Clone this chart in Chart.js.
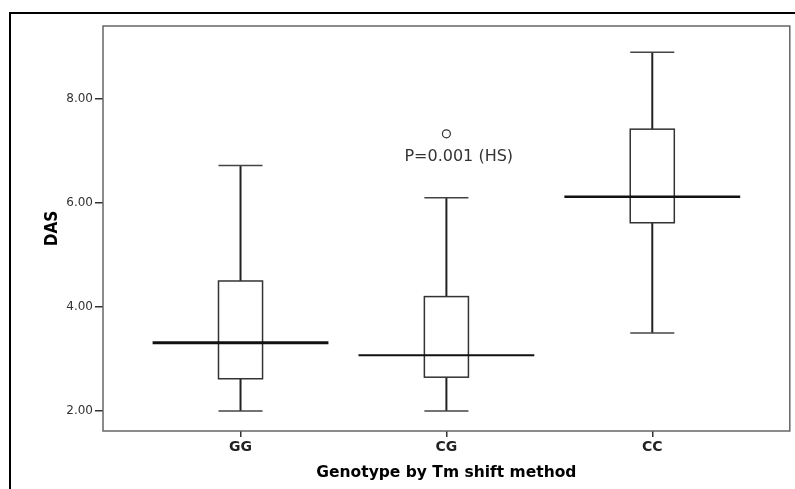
<!DOCTYPE html>
<html>
<head>
  <meta charset="UTF-8" />
  <title>DAS by genotype</title>
  <script src="https://cdn.jsdelivr.net/npm/chart.js"></script>
  <style>
    body { margin: 0; background: #fff; }
    #wrap { position: relative; width: 795px; height: 489px; overflow: hidden; }
    #frame { position: absolute; left: 9px; top: 12px; width: 800px; height: 500px;
             border-top: 2.5px solid #000; border-left: 2.5px solid #000; pointer-events: none; }
    canvas { position: absolute; left: 0; top: 0; }
  </style>
</head>
<body>
<div id="wrap">
  <canvas id="dasChart" width="795" height="489"></canvas>
  <div id="frame"></div>
</div>

<script>
  // box plot values
  const categories = ['GG', 'CG', 'CC'];
  const whiskerLow = [2.0, 2.0, 3.5];
  const q1 = [2.62, 2.65, 5.62];
  const median = [3.31, 3.07, 6.12];
  const q3 = [4.5, 4.2, 7.42];
  const whiskerHigh = [6.72, 6.1, 8.9];
  const outlierGroup = [1];
  const outlierValue = [7.33];
  const yTicks = [2, 4, 6, 8];
  const noteText = 'P=0.001 (HS)';

  const BOX_HALF = 0.107;
  const MEDIAN_HALF = 0.427;
  const medianWidths = [3, 2, 2.5];

  function line(ctx, x0, y0, x1, y1) {
    ctx.beginPath();
    ctx.moveTo(x0, y0);
    ctx.lineTo(x1, y1);
    ctx.stroke();
  }

  const boxPlot = {
    id: 'boxPlot',
    afterDatasetsDraw(chart) {
      const { ctx, chartArea, scales: { x, y } } = chart;
      ctx.save();

      // plot frame
      ctx.strokeStyle = '#666';
      ctx.lineWidth = 1.5;
      ctx.strokeRect(chartArea.left, chartArea.top, chartArea.right - chartArea.left, chartArea.bottom - chartArea.top);

      categories.forEach((c, i) => {
        const cx = x.getPixelForValue(i);
        const bx0 = x.getPixelForValue(i - BOX_HALF);
        const bx1 = x.getPixelForValue(i + BOX_HALF);
        const mx0 = x.getPixelForValue(i - MEDIAN_HALF);
        const mx1 = x.getPixelForValue(i + MEDIAN_HALF);
        const hi = y.getPixelForValue(whiskerHigh[i]);
        const lo = y.getPixelForValue(whiskerLow[i]);
        const top = y.getPixelForValue(q3[i]);
        const bot = y.getPixelForValue(q1[i]);
        const mid = y.getPixelForValue(median[i]);

        ctx.strokeStyle = '#222';
        ctx.lineWidth = 2;
        line(ctx, cx, top, cx, hi);
        line(ctx, cx, bot, cx, lo);

        ctx.strokeStyle = '#444';
        ctx.lineWidth = 1.5;
        line(ctx, bx0, hi, bx1, hi);
        line(ctx, bx0, lo, bx1, lo);

        ctx.fillStyle = '#fff';
        ctx.fillRect(bx0, top, bx1 - bx0, bot - top);
        ctx.strokeStyle = '#333';
        ctx.lineWidth = 1.5;
        ctx.strokeRect(bx0, top, bx1 - bx0, bot - top);

        ctx.strokeStyle = '#111';
        ctx.lineWidth = medianWidths[i];
        line(ctx, mx0, mid, mx1, mid);
      });

      ctx.fillStyle = '#333';
      ctx.font = '16px "DejaVu Sans"';
      ctx.textAlign = 'center';
      ctx.textBaseline = 'middle';
      ctx.fillText(noteText, x.getPixelForValue(1.06), y.getPixelForValue(6.88));
      ctx.restore();
    }
  };

  const chartConfig = {
    type: 'scatter',
    data: {
      datasets: [{
        label: 'Outliers',
        data: outlierGroup.map((g, i) => ({ x: g, y: outlierValue[i] })),
        pointRadius: 4,
        pointBorderWidth: 1.2,
        borderColor: '#333',
        backgroundColor: '#fff'
      }]
    },
    options: {
      responsive: false,
      animation: false,
      layout: { padding: { left: 0, top: 26, right: 3, bottom: 0 } },
      plugins: {
        legend: { display: false },
        tooltip: { enabled: false }
      },
      scales: {
        x: {
          type: 'linear',
          min: -0.668,
          max: 2.668,
          afterBuildTicks: s => { s.ticks = categories.map((c, i) => ({ value: i })); },
          afterFit: s => { s.height = 58; },
          border: { display: false },
          grid: { drawOnChartArea: false, drawTicks: true, tickLength: 6, color: '#333', lineWidth: 1.5 },
          ticks: {
            autoSkip: false,
            maxRotation: 0,
            padding: 2,
            color: '#222',
            font: { family: 'DejaVu Sans', size: 14, weight: 'bold' },
            callback: v => categories[v]
          },
          title: {
            display: true,
            text: 'Genotype by Tm shift method',
            color: '#000',
            font: { family: 'DejaVu Sans', size: 15.5, weight: 'bold' },
            padding: { top: 0, bottom: 7 }
          }
        },
        y: {
          min: 1.615,
          max: 9.404,
          afterBuildTicks: s => { s.ticks = yTicks.map(v => ({ value: v })); },
          afterFit: s => { s.width = 103; },
          border: { display: false },
          grid: { drawOnChartArea: false, drawTicks: true, tickLength: 8, color: '#333', lineWidth: 1.5 },
          ticks: {
            padding: 2,
            color: '#333',
            font: { family: 'DejaVu Sans', size: 12 },
            callback: v => v.toFixed(2)
          },
          title: {
            display: true,
            text: 'DAS',
            color: '#000',
            font: { family: '"Liberation Sans Narrow", "DejaVu Sans Condensed", "Liberation Sans"', size: 17, weight: 'bold' },
            padding: { top: 42, bottom: 0 }
          }
        }
      }
    },
    plugins: [boxPlot]
  };

  new Chart(document.getElementById('dasChart'), chartConfig);
</script>
</body>
</html>
